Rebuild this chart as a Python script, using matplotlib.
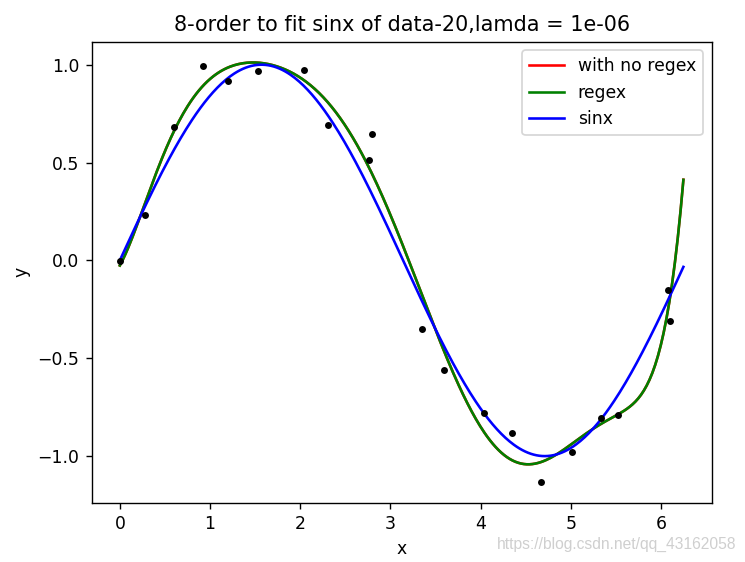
import numpy as np
import matplotlib
matplotlib.use("Agg")
import matplotlib.pyplot as plt

# noisy samples of sin(x)
x_data = [0.0, 0.279, 0.598, 0.918, 1.200, 1.531, 2.047, 2.308, 2.760, 2.798,
          3.356, 3.590, 4.042, 4.348, 4.667, 5.017, 5.332, 5.530, 6.078, 6.096]
y_data = [-0.005, 0.230, 0.680, 0.992, 0.915, 0.966, 0.973, 0.692, 0.513, 0.646,
          -0.351, -0.562, -0.780, -0.883, -1.131, -0.978, -0.804, -0.791, -0.151, -0.308]
order = 8
lamda = 1e-6
x_end = 6.25


def design(x, m):
    return np.vander(np.asarray(x), m + 1, increasing=True)


X = design(x_data, order)
y = np.asarray(y_data)
w_plain = np.linalg.lstsq(X, y, rcond=None)[0]
w_reg = np.linalg.solve(X.T @ X + lamda * np.eye(order + 1), X.T @ y)

xs = np.linspace(0, x_end, 400)
Xs = design(xs, order)

fig = plt.figure(figsize=(5.98, 4.511), dpi=124.6)
ax = fig.add_axes([0.123, 0.1055, 0.832, 0.8205])
ax.plot(xs, Xs @ w_plain, color="red", label="with no regex")
ax.plot(xs, Xs @ w_reg, color="green", label="regex")
ax.plot(xs, np.sin(xs), color="blue", label="sinx")
ax.plot(x_data, y_data, "k.")
ax.set_title(f"{order}-order to fit sinx of data-{len(x_data)},lamda = {lamda}")
ax.set_xlabel("x")
ax.set_ylabel("y")
ax.legend(loc="upper right")
fig.text(0.988, 0.018, "https://blog.csdn.net/qq_43162058", ha="right", va="bottom",
         color="#cfcfcf", fontsize=9, family="Liberation Sans")
fig.savefig("out.png", dpi=124.6)
